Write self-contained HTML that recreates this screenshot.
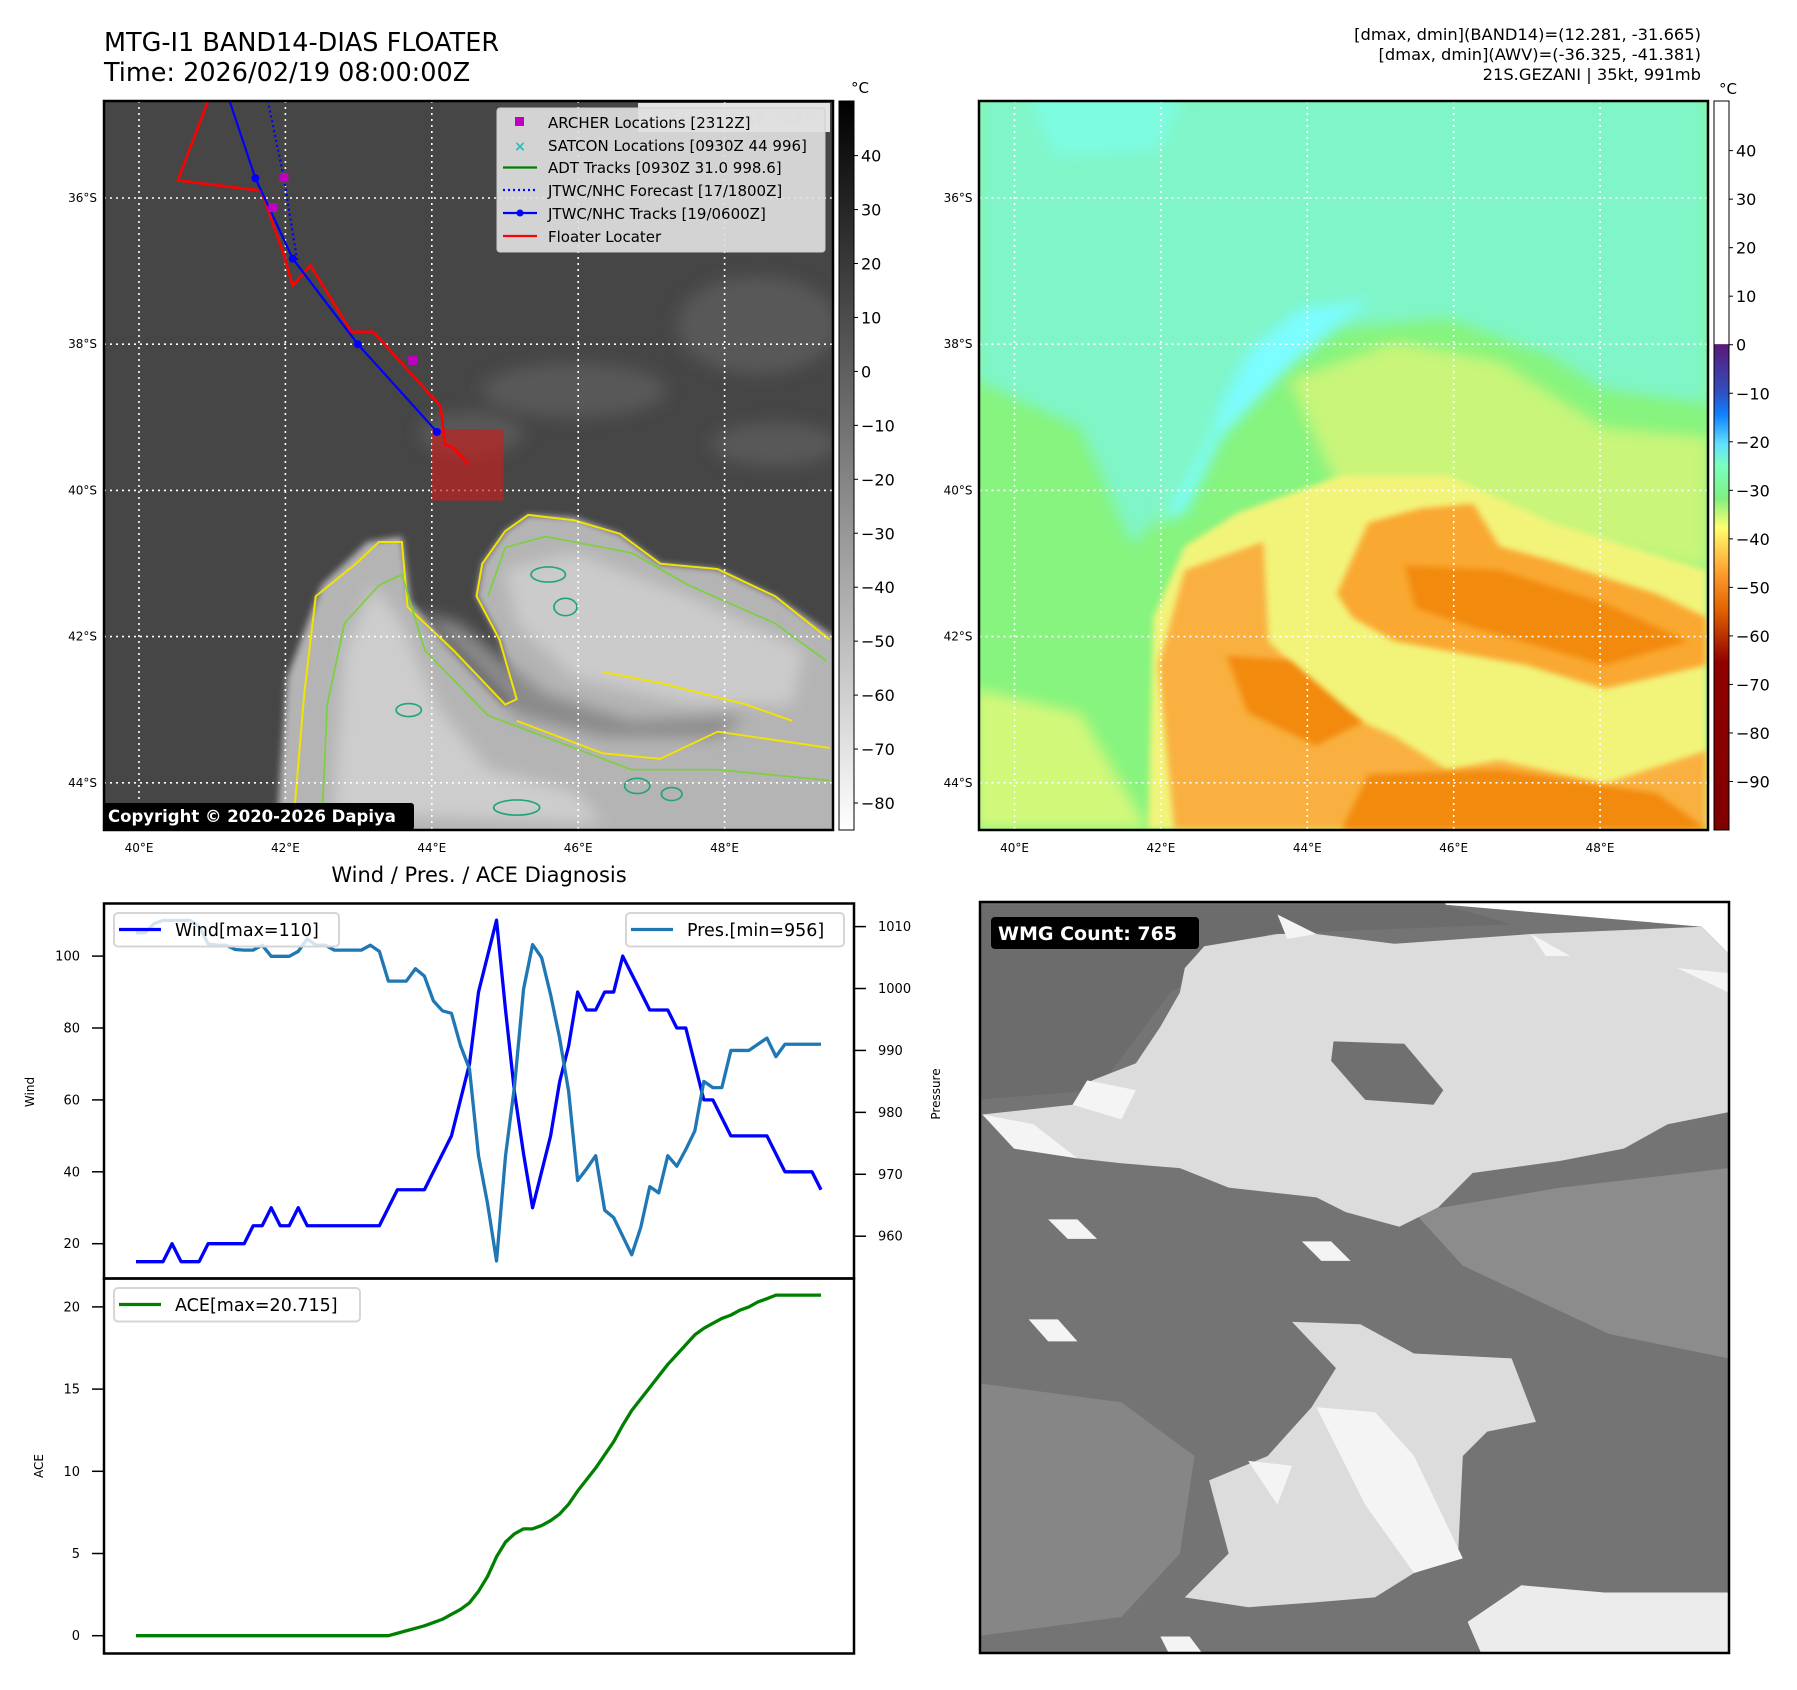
<!DOCTYPE html>
<html><head><meta charset="utf-8">
<style>
html,body{margin:0;padding:0;background:#fff;}
svg{display:block;font-family:"DejaVu Sans","Liberation Sans",sans-serif;}
</style></head>
<body>
<svg id="fig" width="1797" height="1690" viewBox="0 0 1797 1690" xmlns="http://www.w3.org/2000/svg">
<defs>
  <clipPath id="clip1"><rect x="104" y="101" width="729" height="729"/></clipPath>
  <clipPath id="clip2"><rect x="979" y="101" width="729" height="729"/></clipPath>
  <clipPath id="clip3"><rect x="980" y="902" width="749" height="751"/></clipPath>
  <filter id="blur6" x="-20%" y="-20%" width="140%" height="140%"><feGaussianBlur stdDeviation="6"/></filter>
  <filter id="blur12" x="-20%" y="-20%" width="140%" height="140%"><feGaussianBlur stdDeviation="14"/></filter>
  <linearGradient id="cb1" x1="0" y1="0" x2="0" y2="1">
    <stop offset="0" stop-color="#000"/><stop offset="1" stop-color="#fff"/>
  </linearGradient>
  <linearGradient id="cb2" x1="0" y1="0" x2="0" y2="1">
    <stop offset="0" stop-color="#fff"/>
    <stop offset="0.333" stop-color="#fff"/>
    <stop offset="0.334" stop-color="#5a1a78"/>
    <stop offset="0.40" stop-color="#3050c0"/>
    <stop offset="0.43" stop-color="#1080ff"/>
    <stop offset="0.47" stop-color="#60e0ff"/>
    <stop offset="0.50" stop-color="#7affc0"/>
    <stop offset="0.545" stop-color="#80f080"/>
    <stop offset="0.585" stop-color="#ffff70"/>
    <stop offset="0.645" stop-color="#ffa030"/>
    <stop offset="0.70" stop-color="#e06000"/>
    <stop offset="0.77" stop-color="#900000"/>
    <stop offset="1" stop-color="#800000"/>
  </linearGradient>
</defs>

<text x="104" y="51" font-size="25.5" fill="#000">MTG-I1 BAND14-DIAS FLOATER</text>
<text x="104" y="81" font-size="25.5" fill="#000">Time: 2026/02/19 08:00:00Z</text>
<g font-size="16.3" text-anchor="end" fill="#000">
  <text x="1701" y="40">[dmax, dmin](BAND14)=(12.281, -31.665)</text>
  <text x="1701" y="60">[dmax, dmin](AWV)=(-36.325, -41.381)</text>
  <text x="1701" y="80">21S.GEZANI | 35kt, 991mb</text>
</g>

<!-- MAP 1 -->
<g clip-path="url(#clip1)">
  <rect x="104" y="101" width="729" height="729" fill="#464646"/>
  <g transform="scale(0.5741,0.5420)">
    <g filter="url(#blur12)" fill="#585858">
      <ellipse cx="1320" cy="600" rx="140" ry="90"/>
      <ellipse cx="1000" cy="720" rx="160" ry="50"/>
      <ellipse cx="1350" cy="820" rx="110" ry="40"/>
      <ellipse cx="820" cy="800" rx="90" ry="40"/>
    </g>
    <path filter="url(#blur6)" fill="#b4b4b4" d="M480,1560 L500,1250 L560,1080 L640,1000 L700,990 L715,1110 L790,1200 L880,1300 L900,1290 L870,1180 L830,1100 L840,1040 L880,980 L920,950 L1000,955 L1080,985 L1150,1040 L1250,1050 L1350,1100 L1460,1180 L1460,1560 Z"/>
    <path filter="url(#blur12)" fill="#cdcdcd" d="M580,1500 L600,1200 L650,1080 L700,1150 L760,1300 L850,1420 L1000,1460 L1050,1520 Z"/>
    <path filter="url(#blur12)" fill="#cbcbcb" d="M880,1050 L1000,1020 L1200,1100 L1400,1200 L1380,1300 L1200,1300 L1000,1250 L900,1150 Z"/>
    <path filter="url(#blur12)" fill="#8a8a8a" d="M730,1130 L900,1320 L1050,1360 L1250,1360 L1300,1320 L1100,1330 L950,1280 L800,1150 Z"/>
    <path fill="none" stroke="#f3e400" stroke-width="3.5" d="M510,1530 L530,1280 L550,1100 L620,1040 L660,1000 L700,1000 L710,1120 L790,1200 L880,1300 L900,1290 L870,1180 L830,1100 L840,1040 L880,980 L920,950 L1000,960 L1080,985 L1150,1040 L1250,1050 L1350,1100 L1445,1180"/>
    <path fill="none" stroke="#f3e400" stroke-width="3.5" d="M900,1330 L1050,1390 L1150,1400 L1250,1350 L1445,1380"/>
    <path fill="none" stroke="#f3e400" stroke-width="3.5" d="M1050,1240 L1150,1260 L1300,1300 L1380,1330"/>
    <path fill="none" stroke="#7bd13a" stroke-width="3" d="M560,1530 L570,1300 L600,1150 L660,1080 L700,1060 L740,1200 L850,1320 L950,1360 L1100,1420 L1250,1420 L1445,1440"/>
    <path fill="none" stroke="#7bd13a" stroke-width="3" d="M850,1100 L880,1010 L950,990 L1100,1020 L1200,1080 L1350,1150 L1440,1220"/>
    <g fill="none" stroke="#22a57a" stroke-width="3">
      <ellipse cx="955" cy="1060" rx="30" ry="14"/>
      <ellipse cx="985" cy="1120" rx="20" ry="16"/>
      <ellipse cx="712" cy="1310" rx="22" ry="12"/>
      <ellipse cx="900" cy="1490" rx="40" ry="14"/>
      <ellipse cx="1110" cy="1450" rx="22" ry="14"/>
      <ellipse cx="1170" cy="1465" rx="18" ry="12"/>
    </g>
  </g>
  <g stroke="#fff" stroke-width="1.6" stroke-dasharray="2,4" id="grid1"></g>
  <g id="tracks1"></g>
</g>
<rect x="104" y="101" width="729" height="729" fill="none" stroke="#000" stroke-width="2.5"/>

<rect x="638" y="103" width="192" height="29" fill="#fff" fill-opacity="0.85"/>
<text x="648" y="124" font-size="16" font-weight="bold" fill="#cfcfcf">© EUMETSAT 2026</text>

<g>
  <rect x="497" y="108" width="328" height="144" rx="3" fill="#e0e0e0" fill-opacity="0.92" stroke="#ccc"/>
  <rect x="515" y="117" width="9" height="9" fill="#c000c0"/>
  <text x="548" y="128" font-size="15">ARCHER Locations [2312Z]</text>
  <text x="520" y="151" font-size="14" font-weight="bold" fill="#20c0c0" text-anchor="middle">×</text>
  <text x="548" y="151" font-size="15">SATCON Locations [0930Z 44 996]</text>
  <line x1="503" y1="167.5" x2="537" y2="167.5" stroke="#008000" stroke-width="2.2"/>
  <text x="548" y="173" font-size="15">ADT Tracks [0930Z 31.0 998.6]</text>
  <line x1="503" y1="190" x2="537" y2="190" stroke="#0000ff" stroke-width="2.2" stroke-dasharray="2,3"/>
  <text x="548" y="196" font-size="15">JTWC/NHC Forecast [17/1800Z]</text>
  <line x1="503" y1="213" x2="537" y2="213" stroke="#0000ff" stroke-width="2.2"/>
  <circle cx="520" cy="213" r="3.5" fill="#0000ff"/>
  <text x="548" y="219" font-size="15">JTWC/NHC Tracks [19/0600Z]</text>
  <line x1="503" y1="236" x2="537" y2="236" stroke="#ff0000" stroke-width="2.2"/>
  <text x="548" y="242" font-size="15">Floater Locater</text>
</g>

<rect x="103" y="803" width="311" height="27" rx="3" fill="#000"/>
<text x="108" y="822" font-size="16.5" font-weight="bold" fill="#fff">Copyright © 2020-2026 Dapiya</text>

<rect x="839" y="101" width="15" height="729" fill="url(#cb1)" stroke="#000" stroke-width="1"/>
<text x="851" y="93" font-size="15">°C</text>
<g id="cb1ticks" font-size="16"></g>

<!-- MAP 2 -->
<g clip-path="url(#clip2)">
  <rect x="979" y="101" width="729" height="729" fill="#86f47e"/>
  <g transform="translate(975,95) scale(0.5244,0.4751)">
    <path filter="url(#blur12)" fill="#80f5c8" d="M0,0 L1400,0 L1400,650 L1200,620 L1100,550 L900,470 L700,490 L600,560 L450,700 L380,850 L300,950 L200,700 L0,600 Z"/>
    <path filter="url(#blur12)" fill="#7cfdff" d="M420,760 L520,540 L620,450 L760,430 L680,490 L600,570 L470,720 L400,880 L350,900 Z"/>
    <path filter="url(#blur12)" fill="#7efce0" d="M100,0 L400,0 L350,120 L150,130 Z"/>
    <path filter="url(#blur12)" fill="#c8f57a" d="M600,600 L800,520 L1000,560 L1200,700 L1400,720 L1400,1000 L1000,900 L700,850 Z"/>
    <path filter="url(#blur12)" fill="#d2f87a" d="M0,1250 L200,1300 L330,1545 L0,1545 Z"/>
    <path filter="url(#blur6)" fill="#f2f47a" d="M330,1545 L340,1100 L400,950 L500,880 L700,800 L900,800 L1100,900 L1395,1000 L1395,1545 Z"/>
    <path filter="url(#blur6)" fill="#f9b040" d="M380,1545 L350,1200 L400,1000 L550,940 L560,1150 L700,1300 L800,1350 L900,1420 L1000,1400 L1200,1450 L1395,1380 L1395,1545 Z"/>
    <path filter="url(#blur6)" fill="#f9a830" d="M690,1050 L750,900 L850,870 L950,860 L1000,950 L1100,980 L1300,1050 L1395,1100 L1395,1200 L1200,1250 L1050,1200 L950,1180 L800,1150 L720,1100 Z"/>
    <g filter="url(#blur6)" fill="#f28a10">
      <path d="M820,990 L1000,1000 L1200,1070 L1360,1150 L1200,1200 L950,1120 L840,1080 Z"/>
      <path d="M480,1180 L600,1190 L740,1320 L650,1370 L520,1300 Z"/>
      <path d="M750,1430 L1000,1420 L1300,1470 L1395,1545 L700,1545 Z"/>
    </g>
  </g>
  <g stroke="#fff" stroke-width="1.6" stroke-dasharray="2,4" id="grid2"></g>
</g>
<rect x="979" y="101" width="729" height="729" fill="none" stroke="#000" stroke-width="2.5"/>
<rect x="1714" y="101" width="15" height="729" fill="url(#cb2)" stroke="#000" stroke-width="1"/>
<text x="1719" y="94" font-size="15">°C</text>
<g id="cb2ticks" font-size="16"></g>
<g id="mapticks" font-size="12"></g>

<!-- LOWER LEFT CHART -->
<text x="479" y="882" font-size="21" text-anchor="middle">Wind / Pres. / ACE Diagnosis</text>
<g id="chart"></g>
<rect x="104" y="903.5" width="750" height="375" fill="none" stroke="#000" stroke-width="2.5"/>
<rect x="104" y="1278.5" width="750" height="375" fill="none" stroke="#000" stroke-width="2.5"/>
<text transform="translate(34,1092) rotate(-90)" font-size="12" text-anchor="middle">Wind</text>
<text transform="translate(43,1466) rotate(-90)" font-size="12" text-anchor="middle">ACE</text>
<text transform="translate(940,1094) rotate(-90)" font-size="12" text-anchor="middle">Pressure</text>

<!-- LOWER RIGHT WMG PANEL -->
<g clip-path="url(#clip3)">
  <rect x="980" y="902" width="749" height="751" fill="#747474"/>
  <g transform="translate(975,895) scale(0.4878)">
    <path fill="#fff" d="M960,0 L1560,0 L1560,130 L1545,120 L1490,65 L965,20 Z"/>
    <path fill="#6c6c6c" d="M0,20 L960,20 L1100,60 L600,80 L400,200 L250,400 L0,420 Z"/>
    <path fill="#8c8c8c" d="M900,650 L1200,600 L1545,560 L1545,950 L1300,900 L1000,760 Z"/>
    <path fill="#868686" d="M0,1000 L300,1040 L450,1150 L420,1350 L300,1480 L0,1520 Z"/>
    <path fill="#dcdcdc" d="M430,150 L470,105 L620,80 L700,80 L860,100 L1140,80 L1490,65 L1545,120 L1545,445 L1420,470 L1330,520 L1200,545 L1020,570 L950,640 L870,680 L760,650 L700,620 L520,600 L420,560 L300,550 L210,540 L80,510 L15,450 L200,430 L240,380 L330,345 L380,270 L420,200 Z"/>
    <path fill="#f4f4f4" d="M15,450 L120,470 L210,540 L80,520 Z M230,380 L330,400 L300,460 L200,430 Z M620,40 L700,80 L640,90 Z M1140,80 L1220,125 L1170,125 Z M1440,150 L1545,160 L1545,200 Z"/>
    <path fill="#707070" d="M735,300 L880,305 L960,400 L940,430 L800,420 L730,340 Z"/>
    <path fill="#dcdcdc" d="M650,875 L790,880 L900,940 L1100,950 L1150,1080 L1050,1100 L1000,1150 L990,1360 L900,1390 L820,1440 L700,1450 L560,1460 L430,1440 L520,1350 L480,1200 L600,1150 L690,1050 L740,970 Z"/>
    <path fill="#f4f4f4" d="M700,1050 L820,1060 L900,1150 L1000,1360 L900,1390 L800,1250 Z M560,1160 L650,1170 L620,1250 Z"/>
    <path fill="#ececec" d="M1120,1415 L1290,1430 L1545,1430 L1545,1560 L1040,1560 L1010,1490 Z"/>
    <path fill="#f4f4f4" d="M110,870 L170,870 L210,915 L150,915 Z M670,710 L730,710 L770,750 L710,750 Z M150,665 L210,665 L250,705 L190,705 Z M380,1520 L440,1520 L470,1560 L400,1560 Z"/>
  </g>
</g>
<rect x="980" y="902" width="749" height="751" fill="none" stroke="#000" stroke-width="2.5"/>
<rect x="991" y="917" width="208" height="32" rx="4" fill="#000"/>
<text x="998" y="940" font-size="19" font-weight="bold" fill="#fff">WMG Count: 765</text>

<script>
const windValues = [15,15,15,15,20,15,15,15,20,20,20,20,20,25,25,30,25,25,30,25,25,25,25,25,25,25,25,25,30,35,35,35,35,40,45,50,60,70,90,100,110,85,62,45,30,40,50,65,75,90,85,85,90,90,100,95,90,85,85,85,80,80,70,60,60,55,50,50,50,50,50,45,40,40,40,40,35];
const presValues = [1009,1009,1010.5,1011,1011,1011,1011,1010,1007.2,1007,1007,1006.3,1006.2,1006.2,1007,1005.2,1005.2,1005.2,1006,1008,1007,1007,1006.2,1006.2,1006.2,1006.2,1007,1006,1001.2,1001.2,1001.2,1003.2,1002,998,996.4,996,990.8,987,973,965.3,956,973,984.3,999.9,1007.1,1005,999,992,983.4,969,970.9,973,964.2,963,960,957,961.4,968,967,973,971.3,974,977,985,984,984,990,990,990,991,992,989,991,991,991,991,991];
const aceValues = [0,0,0,0,0,0,0,0,0,0,0,0,0,0,0,0,0,0,0,0,0,0,0,0,0,0,0,0,0,0.15,0.3,0.45,0.6,0.8,1.0,1.3,1.6,2.0,2.7,3.6,4.8,5.7,6.2,6.5,6.5,6.7,7.0,7.4,8.0,8.8,9.5,10.2,11.0,11.8,12.8,13.7,14.4,15.1,15.8,16.5,17.1,17.7,18.3,18.7,19.0,19.3,19.5,19.8,20.0,20.3,20.5,20.715,20.715,20.715,20.715,20.715,20.715];
const windTicks = [20,40,60,80,100];
const presTicks = [960,970,980,990,1000,1010];
const aceTicks = [0,5,10,15,20];
const lonTicks = [40,42,44,46,48];
const latTicks = [36,38,40,42,44];
const irCbTicks = [40,30,20,10,0,-10,-20,-30,-40,-50,-60,-70,-80];
const wvCbTicks = [40,30,20,10,0,-10,-20,-30,-40,-50,-60,-70,-80,-90];
const jtwcLon = [41.22,41.59,42.1,42.99,44.07];
const jtwcLat = [34.62,35.73,36.83,38.0,39.2];
const fcstLon = [41.76,41.98,42.16];
const fcstLat = [34.67,35.73,36.85];
const floaterLon = [41.33,41.05,40.53,41.67,41.98,42.10,42.34,42.90,43.20,44.12,44.18,44.30,44.51];
const floaterLat = [34.69,34.39,35.76,35.90,36.78,37.20,36.92,37.83,37.83,38.85,39.37,39.42,39.65];
const archerLon = [41.98,41.83,43.74];
const archerLat = [35.72,36.13,38.22];
const boxLon = [44.0,44.98];
const boxLat = [39.16,40.14];

const NS = 'http://www.w3.org/2000/svg';
function mk(tag, attrs, parent){ const e=document.createElementNS(NS,tag); for(const k in attrs) e.setAttribute(k,attrs[k]); parent.appendChild(e); return e; }
function gx(lon, off){ return 139 + (lon-40)*73.2 + (off||0); }
function gy(lat){ return 198 + (lat-36)*73.1; }

[['grid1',0],['grid2',875.5]].forEach(([id,off])=>{
  const g=document.getElementById(id);
  lonTicks.forEach(l=>{ const x=gx(l,off); const e=mk('line',{x1:x,y1:101,x2:x,y2:830},g);
    
     });
  latTicks.forEach(l=>{ const y=gy(l); const e=mk('line',{x1:104+off,y1:y,x2:833+off,y2:y},g);
    
     });
});
const mt=document.getElementById('mapticks');
[0,875.5].forEach(off=>{
  lonTicks.forEach(l=>{ const t=mk('text',{x:gx(l,off),y:852,'text-anchor':'middle'},mt); t.textContent=l+'°E';
    
     });
  latTicks.forEach(l=>{ const t=mk('text',{x:97+off,y:gy(l)+4,'text-anchor':'end'},mt); t.textContent=l+'°S';
    
     });
});
function cb1y(v){ return 155.6 + (40-v)*5.395; }
function cb2y(v){ return 150.6 + (40-v)*4.853; }
const c1=document.getElementById('cb1ticks');
irCbTicks.forEach(v=>{ const y=cb1y(v); mk('line',{x1:854,y1:y,x2:858,y2:y,stroke:'#000'},c1);
  const t=mk('text',{x:861,y:y+6},c1); t.textContent=(v<0?'\u2212'+(-v):v);
  
   });
const c2=document.getElementById('cb2ticks');
wvCbTicks.forEach(v=>{ const y=cb2y(v); mk('line',{x1:1729,y1:y,x2:1733,y2:y,stroke:'#000'},c2);
  const t=mk('text',{x:1736,y:y+6},c2); t.textContent=(v<0?'\u2212'+(-v):v);
  
   });

const tg=document.getElementById('tracks1');
const box=mk('rect',{x:gx(boxLon[0]),y:gy(boxLat[0]),width:gx(boxLon[1])-gx(boxLon[0]),height:gy(boxLat[1])-gy(boxLat[0]),fill:'#c81e1e','fill-opacity':0.65},tg);


function pts(lo,la){ return lo.map((l,i)=>gx(l)+','+gy(la[i])).join(' '); }
const fl=mk('polyline',{points:pts(floaterLon,floaterLat),fill:'none',stroke:'#ff0000','stroke-width':2.6},tg);


const fc=mk('polyline',{points:pts(fcstLon,fcstLat),fill:'none',stroke:'#0000ff','stroke-width':2.2,'stroke-dasharray':'2,3'},tg);


const jt=mk('polyline',{points:pts(jtwcLon,jtwcLat),fill:'none',stroke:'#0000ff','stroke-width':2.2},tg);


jtwcLon.forEach((l,i)=>{ const c=mk('circle',{cx:gx(l),cy:gy(jtwcLat[i]),r:4,fill:'#0000ff'},tg);
  
   });
archerLon.forEach((l,i)=>{ const r=mk('rect',{x:gx(l)-4.5,y:gy(archerLat[i])-4.5,width:9,height:9,fill:'#c000c0'},tg);
  
   });

const ch=document.getElementById('chart');
const N = windValues.length;
function xi(i){ return 136 + i*(821-136)/(N-1); }
function wy(w){ return 1243.7 - (w-20)*3.595; }
function py(p){ return 1236.2 - (p-960)*6.192; }
function ay(a){ return 1635.7 - a*16.44; }
function line(vals, yf, color, name){
  const p=mk('polyline',{points:vals.map((v,i)=>xi(i)+','+yf(v)).join(' '),fill:'none',stroke:color,'stroke-width':3.3,'stroke-linejoin':'round'},ch);
  
  
}
line(windValues, wy, '#0000ff', 'wind-line');
line(presValues, py, '#1f77b4', 'pressure-line');
line(aceValues, ay, '#008000', 'ace-line');
windTicks.forEach(v=>{ const y=wy(v); mk('line',{x1:92,y1:y,x2:104,y2:y,stroke:'#000','stroke-width':1.5},ch);
  const t=mk('text',{x:80,y:y+4.5,'font-size':13,'text-anchor':'end'},ch); t.textContent=v;
  
   });
presTicks.forEach(v=>{ const y=py(v); mk('line',{x1:854,y1:y,x2:866,y2:y,stroke:'#000','stroke-width':1.5},ch);
  const t=mk('text',{x:878,y:y+4.5,'font-size':13},ch); t.textContent=v;
  
   });
aceTicks.forEach(v=>{ const y=ay(v); mk('line',{x1:92,y1:y,x2:104,y2:y,stroke:'#000','stroke-width':1.5},ch);
  const t=mk('text',{x:80,y:y+4.5,'font-size':13,'text-anchor':'end'},ch); t.textContent=v;
  
   });
function legend(x,y,w,color,label,name){
  const g=mk('g',{},ch);
  
  
  mk('rect',{x:x,y:y,width:w,height:33.5,rx:4,fill:'#fff','fill-opacity':0.8,stroke:'#d6d6d6','stroke-width':2},g);
  mk('line',{x1:x+5,y1:y+16.5,x2:x+47,y2:y+16.5,stroke:color,'stroke-width':3.3},g);
  const t=mk('text',{x:x+61,y:y+23,'font-size':17.5},g); t.textContent=label;
}
legend(114,913,225,'#0000ff','Wind[max=110]','wind-legend');
legend(626,913,218,'#1f77b4','Pres.[min=956]','pressure-legend');
legend(114,1288,246,'#008000','ACE[max=20.715]','ace-legend');
</script>
</svg>
</body></html>
